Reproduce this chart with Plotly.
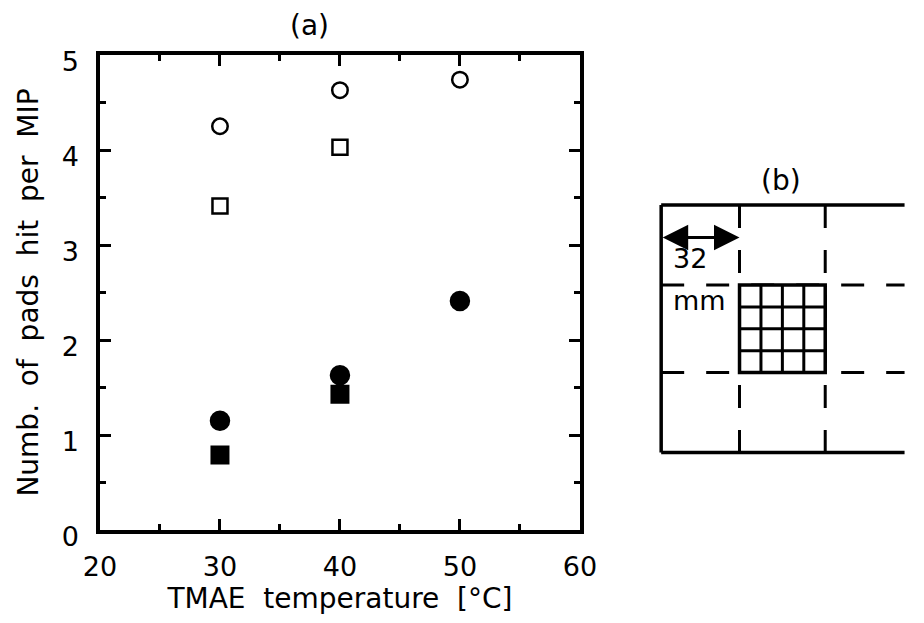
import plotly.graph_objects as go

# ---------------- data (panel a) ----------------
temps = [30, 40, 50]
open_circle_vals = [4.25, 4.63, 4.74]
open_square_temps = [30, 40]
open_square_vals = [3.41, 4.03]
filled_circle_vals = [1.15, 1.63, 2.41]
filled_square_temps = [30, 40]
filled_square_vals = [0.79, 1.43]

x_range = [20, 60]
y_range = [0, 5]
x_tick_vals = [20, 30, 40, 50, 60]
y_tick_vals = [0, 1, 2, 3, 4, 5]

# ---------------- panel (b) diagram definition (mm) ----------------
frame_height_mm = 99
separators_mm = [32, 67]      # dashed cell boundaries
pad_count = 4                 # 4 x 4 pads in the hit cell
arrow_span_mm = [0, 32]
arrow_label = ["32", "mm"]

FONT = "DejaVu Sans"
BLACK = "#000000"

W, H = 924, 623
ML, MR, MT, MB = 100, 0, 55, 93
PW = W - ML - MR
PH = H - MT - MB

fig = go.Figure()

def add(x, y, symbol, size, name):
    fig.add_trace(go.Scatter(
        x=x, y=y, mode="markers", name=name, showlegend=False,
        marker=dict(symbol=symbol, size=size, color=BLACK,
                    line=dict(color=BLACK, width=2.5)),
        xaxis="x", yaxis="y"))

add(temps, open_circle_vals, "circle-open", 15.5, "open circle")
add(open_square_temps, open_square_vals, "square-open", 15, "open square")
add(temps, filled_circle_vals, "circle", 18, "filled circle")
add(filled_square_temps, filled_square_vals, "square", 16.5, "filled square")

# invisible trace so the mirrored tick axes (top / right) are drawn
fig.add_trace(go.Scatter(x=[None], y=[None], mode="markers", showlegend=False,
                         hoverinfo="skip", xaxis="x3", yaxis="y3"))

tick_common = dict(ticks="inside", tickcolor=BLACK, tickwidth=3, ticklen=11,
                   showgrid=False, zeroline=False)
tfont = dict(family=FONT, size=27, color=BLACK)
x_minor = dict(dtick=5, ticks="inside", ticklen=6, tickwidth=3,
               tickcolor=BLACK, showgrid=False)
y_minor = dict(dtick=0.5, ticks="inside", ticklen=6, tickwidth=3,
               tickcolor=BLACK, showgrid=False)
xdom = [0, 490 / PW]

fig.update_layout(
    width=W, height=H,
    margin=dict(l=ML, r=MR, t=MT, b=MB),
    paper_bgcolor="white", plot_bgcolor="white",
    xaxis=dict(domain=xdom, range=x_range, tickvals=x_tick_vals, minor=x_minor,
               showline=True, linecolor=BLACK, linewidth=3.5, mirror=True,
               ticklabelstandoff=10, tickfont=tfont,
               title=dict(text="TMAE\u00a0\u00a0temperature\u00a0\u00a0[°C]",
                          font=dict(family=FONT, size=28, color=BLACK), standoff=6),
               anchor="y", **tick_common),
    yaxis=dict(domain=[0, 1], range=y_range, tickvals=y_tick_vals, minor=y_minor,
               showline=True, linecolor=BLACK, linewidth=3.5, mirror=True,
               ticklabelstandoff=12, ticklabelshift=7, tickfont=tfont,
               title=dict(text="Numb.\u00a0\u00a0of\u00a0\u00a0pads\u00a0\u00a0hit\u00a0\u00a0per\u00a0\u00a0MIP",
                          font=dict(family=FONT, size=28, color=BLACK), standoff=16),
               anchor="x", **tick_common),
    xaxis3=dict(domain=xdom, range=x_range, tickvals=x_tick_vals, minor=x_minor,
                overlaying="x", side="top", anchor="y", showline=False,
                showticklabels=False, **tick_common),
    yaxis3=dict(domain=[0, 1], range=y_range, tickvals=y_tick_vals, minor=y_minor,
                overlaying="y", side="right", anchor="x", showline=False,
                showticklabels=False, **tick_common),
    xaxis2=dict(domain=[(663 - ML) / PW, 1.0], range=[-4, 100.4], visible=False,
                anchor="y2", fixedrange=True),
    yaxis2=dict(domain=[(MT + PH - 463) / PH, (MT + PH - 160) / PH],
                range=[103.2, -18], visible=False, anchor="x2", fixedrange=True),
)

# ---------------- panel (b) shapes ----------------
shapes = []
lw = 3.5
s0, s1 = separators_mm
far = 99.4
dash = "23px,22px"
for s in separators_mm:
    shapes.append(dict(type="line", xref="x2", yref="y2", x0=s, x1=s, y0=0,
                       y1=frame_height_mm, line=dict(color=BLACK, width=3, dash=dash)))
    shapes.append(dict(type="line", xref="x2", yref="y2", x0=0, x1=far, y0=s,
                       y1=s, line=dict(color=BLACK, width=3, dash=dash)))
# outer frame: left, top and bottom edges (right side runs off the picture)
shapes.append(dict(type="line", xref="x2", yref="y2", x0=0, x1=0, y0=0,
                   y1=frame_height_mm, line=dict(color=BLACK, width=lw)))
for yy in [0, frame_height_mm]:
    shapes.append(dict(type="line", xref="x2", yref="y2", x0=0, x1=far, y0=yy,
                       y1=yy, line=dict(color=BLACK, width=lw)))
# pad block
shapes.append(dict(type="rect", xref="x2", yref="y2", x0=s0, x1=s1, y0=s0, y1=s1,
                   fillcolor="white", line=dict(color=BLACK, width=lw)))
step = (s1 - s0) / pad_count
for i in range(1, pad_count):
    p = s0 + i * step
    shapes.append(dict(type="line", xref="x2", yref="y2", x0=p, x1=p, y0=s0, y1=s1,
                       line=dict(color=BLACK, width=3)))
    shapes.append(dict(type="line", xref="x2", yref="y2", x0=s0, x1=s1, y0=p, y1=p,
                       line=dict(color=BLACK, width=3)))
fig.update_layout(shapes=shapes)

annotations = [
    dict(text="(a)", xref="paper", yref="paper", x=(314 - ML) / PW, y=(MT + PH - 25) / PH,
         xanchor="center", yanchor="middle",
         showarrow=False, font=dict(family=FONT, size=28, color=BLACK)),
    dict(text="(b)", xref="x2", yref="y2", x=48.8, y=-10, xanchor="center", yanchor="middle",
         showarrow=False, font=dict(family=FONT, size=28, color=BLACK)),
    dict(text="", xref="x2", yref="y2", axref="x2", ayref="y2",
         x=arrow_span_mm[1], y=13, ax=arrow_span_mm[0], ay=13,
         showarrow=True, arrowside="end+start", arrowhead=2, arrowsize=1.7,
         arrowwidth=3, arrowcolor=BLACK),
    dict(text=arrow_label[0], xref="x2", yref="y2", x=4, y=21.5, xanchor="left",
         yanchor="middle", showarrow=False, font=dict(family=FONT, size=27, color=BLACK)),
    dict(text=arrow_label[1], xref="x2", yref="y2", x=4, y=38, xanchor="left",
         yanchor="middle", showarrow=False, font=dict(family=FONT, size=27, color=BLACK)),
]
fig.update_layout(annotations=annotations)

fig.write_html("out.html")
